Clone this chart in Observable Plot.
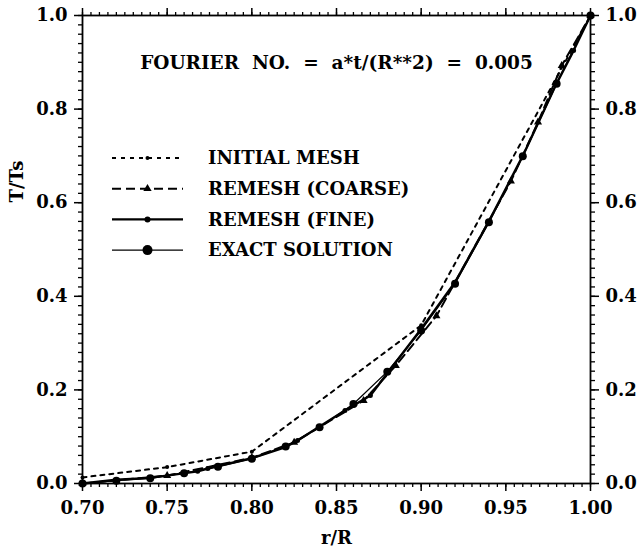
<!DOCTYPE html>
<html>
<head>
<meta charset="utf-8">
<script src="https://cdn.jsdelivr.net/npm/d3@7"></script>
<script src="https://cdn.jsdelivr.net/npm/@observablehq/plot@0.6"></script>
<style>
  html, body { margin: 0; padding: 0; background: #fff; }
  #wrap { position: relative; width: 643px; height: 555px; }
  #wrap svg { position: absolute; left: 0; top: 0; }
</style>
</head>
<body>
<div id="wrap"></div>
<script>
// ---- data ----
const title = "FOURIER  NO.  =  a*t/(R**2)  =  0.005";
const xLabel = "r/R";
const yLabel = "T/Ts";
const xTicks = [0.70, 0.75, 0.80, 0.85, 0.90, 0.95, 1.00];
const yTicks = [0.0, 0.2, 0.4, 0.6, 0.8, 1.0];
const seriesNames = ["INITIAL MESH", "REMESH (COARSE)", "REMESH (FINE)", "EXACT SOLUTION"];

const initialX = [0.70, 0.75, 0.80, 0.90, 1.00];
const initialT = [0.013, 0.035, 0.068, 0.338, 1.00];

const coarseX = [0.70, 0.75, 0.80, 0.825, 0.866, 0.885, 0.909, 0.953, 0.969, 0.983, 1.00];
const coarseT = [0.0, 0.017, 0.055, 0.088, 0.177, 0.252, 0.358, 0.646, 0.772, 0.893, 1.00];

const fineX = [0.70, 0.72, 0.74, 0.768, 0.774, 0.80, 0.82, 0.827, 0.855, 0.87, 0.90, 0.92, 0.94, 0.96, 0.98, 0.99, 1.00];
const fineT = [0.0, 0.008, 0.012, 0.026, 0.032, 0.054, 0.078, 0.092, 0.156, 0.188, 0.330, 0.430, 0.560, 0.700, 0.855, 0.925, 1.00];

const exactX = [0.70, 0.72, 0.74, 0.76, 0.78, 0.80, 0.82, 0.84, 0.86, 0.88, 0.90, 0.92, 0.94, 0.96, 0.98, 1.00];
const exactT = [0.0, 0.006, 0.011, 0.022, 0.036, 0.053, 0.079, 0.120, 0.170, 0.239, 0.327, 0.427, 0.558, 0.699, 0.854, 1.00];

// ---- build tables ----
const toRows = (xs, ts) => xs.map((x, i) => ({x, t: ts[i]}));
const initial = toRows(initialX, initialT);
const coarse = toRows(coarseX, coarseT);
const fine = toRows(fineX, fineT);
const exact = toRows(exactX, exactT);

const xMinor = d3.range(0, 61).map(i => +(0.70 + i * 0.005).toFixed(3));
const yMinor = d3.range(0, 51).map(i => +(i * 0.02).toFixed(2));
const blank = () => "";
const FONT = "DejaVu Serif";

const chart = Plot.plot({
  width: 643,
  height: 555,
  marginLeft: 82,
  marginRight: 53,
  marginTop: 15,
  marginBottom: 72,
  x: {domain: [0.7, 1.0]},
  y: {domain: [0, 1]},
  style: {fontFamily: FONT, fontWeight: "bold", fontSize: "18px", color: "black", background: "white"},
  marks: [
    // minor ticks, all four sides, pointing outward
    Plot.axisX({anchor: "bottom", ticks: xMinor, tickSize: 4, tickFormat: blank, label: null, strokeWidth: 1.3}),
    Plot.axisX({anchor: "top", ticks: xMinor, tickSize: 4, tickFormat: blank, label: null, strokeWidth: 1.3}),
    Plot.axisY({anchor: "left", ticks: yMinor, tickSize: 4, tickFormat: blank, label: null, strokeWidth: 1.3}),
    Plot.axisY({anchor: "right", ticks: yMinor, tickSize: 4, tickFormat: blank, label: null, strokeWidth: 1.3}),
    // major ticks + labels
    Plot.axisX({anchor: "bottom", ticks: xTicks, tickSize: 8, tickPadding: 10, tickFormat: d3.format(".2f"), label: null, strokeWidth: 1.5, fontSize: 18}),
    Plot.axisX({anchor: "top", ticks: xTicks, tickSize: 8, tickFormat: blank, label: null, strokeWidth: 1.5}),
    Plot.axisY({anchor: "left", ticks: yTicks, tickSize: 8, tickPadding: 7, tickFormat: d3.format(".1f"), label: null, strokeWidth: 1.5, fontSize: 18}),
    Plot.axisY({anchor: "right", ticks: yTicks, tickSize: 8, tickPadding: 7, tickFormat: d3.format(".1f"), label: null, strokeWidth: 1.5, fontSize: 18}),
    Plot.frame({stroke: "black", strokeWidth: 1.8}),
    // axis titles and annotation
    Plot.text([xLabel], {text: d => d, frameAnchor: "bottom", dy: 60, fontSize: 18, fontWeight: "bold"}),
    Plot.text([yLabel], {text: d => d, frameAnchor: "left", rotate: -90, dx: -65, dy: -47, fontSize: 18, fontWeight: "bold"}),
    Plot.text([title], {text: d => d, frameAnchor: "top", dy: 40, fontSize: 18.5, fontWeight: "bold"}),
    // series
    Plot.line(initial, {x: "x", y: "t", stroke: "black", strokeWidth: 2, strokeDasharray: "4,5"}),
    Plot.dot(initial, {x: "x", y: "t", r: 2, fill: "black"}),
    Plot.line(coarse, {x: "x", y: "t", stroke: "black", strokeWidth: 2, strokeDasharray: "9,5"}),
    Plot.dot(coarse, {x: "x", y: "t", symbol: "triangle", r: 3, fill: "black"}),
    Plot.line(fine, {x: "x", y: "t", stroke: "black", strokeWidth: 2.4}),
    Plot.dot(fine, {x: "x", y: "t", r: 2.5, fill: "black"}),
    Plot.line(exact, {x: "x", y: "t", stroke: "black", strokeWidth: 1.3}),
    Plot.dot(exact, {x: "x", y: "t", r: 4, fill: "black"})
  ]
});

const wrap = document.getElementById("wrap");
wrap.appendChild(chart);

// ---- legend overlay ----
const legendStyles = [
  {dash: "4,5", width: 2, marker: "dot", r: 2},
  {dash: "9,5", width: 2, marker: "triangle", r: 3},
  {dash: null, width: 2.4, marker: "dot", r: 3},
  {dash: null, width: 1.3, marker: "dot", r: 5}
];
const leg = d3.select(wrap).append("svg")
  .attr("width", 643).attr("height", 555)
  .style("pointer-events", "none");
const x0 = 112, x1 = 183, xt = 208, y0 = 158, dyRow = 30.7;
seriesNames.forEach((name, i) => {
  const s = legendStyles[i];
  const y = y0 + i * dyRow;
  leg.append("line").attr("x1", x0).attr("x2", x1).attr("y1", y).attr("y2", y)
    .attr("stroke", "black").attr("stroke-width", s.width)
    .attr("stroke-dasharray", s.dash);
  const cx = (x0 + x1) / 2;
  if (s.marker === "triangle") {
    leg.append("path").attr("d", d3.symbol(d3.symbolTriangle, 30)()).attr("transform", `translate(${cx},${y})`).attr("fill", "black");
  } else {
    leg.append("circle").attr("cx", cx).attr("cy", y).attr("r", s.r).attr("fill", "black");
  }
  leg.append("text").attr("x", xt).attr("y", y).attr("dy", "0.35em")
    .attr("font-family", FONT).attr("font-weight", "bold").attr("font-size", 18)
    .text(name);
});
</script>
</body>
</html>
